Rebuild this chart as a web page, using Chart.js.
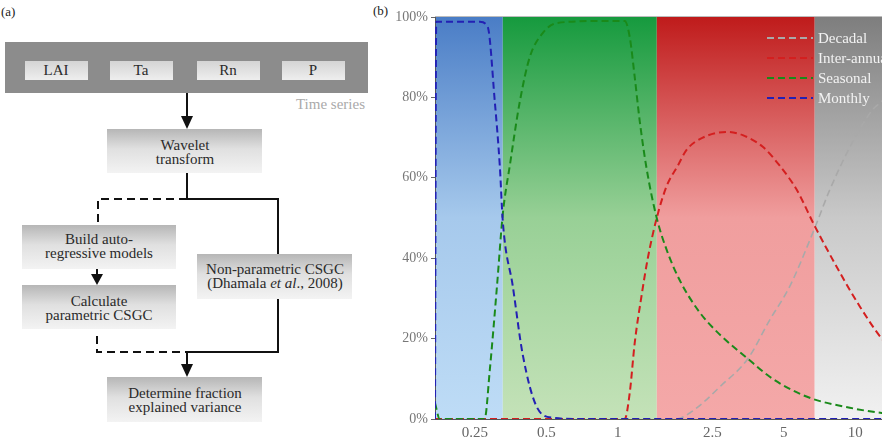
<!DOCTYPE html>
<html>
<head>
<meta charset="utf-8">
<script src="https://cdn.jsdelivr.net/npm/chart.js@4.4.1/dist/chart.umd.min.js"></script>
<style>
  body { margin: 0; width: 882px; height: 440px; overflow: hidden; background: #fff; position: relative;
         font-family: "Liberation Serif", "DejaVu Serif", serif; }
  #flow { position: absolute; left: 0; top: 0; }
  #flow text { font-family: "Liberation Serif", "DejaVu Serif", serif; font-size: 15px; }
  #wrap { position: absolute; left: 370px; top: 0; width: 540px; height: 440px; }
  .tag { position: absolute; font-size: 13px; color: #222; }
</style>
</head>
<body>
<div class="tag" style="left:1px;top:4px">(a)</div>
<svg id="flow" width="370" height="440" fill="#2a2a2a">
  <defs>
    <linearGradient id="boxG" x1="0" y1="0" x2="0" y2="1">
      <stop offset="0" stop-color="#b6b6b6"/>
      <stop offset="0.45" stop-color="#e0e0e0"/>
      <stop offset="1" stop-color="#f3f3f3"/>
    </linearGradient>
    <linearGradient id="tagG" x1="0" y1="0" x2="0" y2="1">
      <stop offset="0" stop-color="#d4d4d4"/>
      <stop offset="1" stop-color="#eeeeee"/>
    </linearGradient>
  </defs>
  <rect x="5" y="42" width="363" height="51" fill="#8c8c8c"/>
  <rect x="25" y="61" width="63" height="19" fill="url(#tagG)"/>
  <rect x="110" y="61" width="63" height="19" fill="url(#tagG)"/>
  <rect x="197" y="61" width="63" height="19" fill="url(#tagG)"/>
  <rect x="282" y="61" width="63" height="19" fill="url(#tagG)"/>
  <text x="56" y="75" text-anchor="middle">LAI</text>
  <text x="141" y="75" text-anchor="middle">Ta</text>
  <text x="228" y="75" text-anchor="middle">Rn</text>
  <text x="313" y="75" text-anchor="middle">P</text>
  <text x="365" y="109" text-anchor="end" fill="#aaaaaa">Time series</text>

  <g stroke="#111" stroke-width="2" fill="none">
    <line x1="187" y1="93" x2="187" y2="118"/>
    <polyline points="187,173 187,199 278,199 278,254"/>
    <polyline points="187,199 98,199 98,225" stroke-dasharray="8,5"/>
    <line x1="97" y1="269" x2="97" y2="276"/>
    <polyline points="97,336 97,352 187,352" stroke-dasharray="8,5"/>
    <polyline points="278,299 278,352 187,352"/>
    <line x1="187" y1="352" x2="187" y2="366"/>
  </g>
  <g fill="#111">
    <polygon points="181,116 193,116 187,129"/>
    <polygon points="91,274 103,274 97,285"/>
    <polygon points="181,364 193,364 187,377"/>
  </g>

  <rect x="107" y="129" width="155" height="44" fill="url(#boxG)"/>
  <text x="185" y="150" text-anchor="middle">Wavelet</text>
  <text x="185" y="164" text-anchor="middle">transform</text>

  <rect x="22" y="225" width="154" height="44" fill="url(#boxG)"/>
  <text x="99" y="244" text-anchor="middle">Build auto-</text>
  <text x="99" y="258" text-anchor="middle">regressive models</text>

  <rect x="22" y="285" width="154" height="44" fill="url(#boxG)"/>
  <text x="99" y="306" text-anchor="middle">Calculate</text>
  <text x="99" y="320" text-anchor="middle">parametric CSGC</text>

  <rect x="197" y="254" width="155" height="45" fill="url(#boxG)"/>
  <text x="275" y="274" text-anchor="middle">Non-parametric CSGC</text>
  <text x="275" y="288" text-anchor="middle">(Dhamala <tspan font-style="italic">et al</tspan>., 2008)</text>

  <rect x="107" y="377" width="155" height="45" fill="url(#boxG)"/>
  <text x="185" y="398" text-anchor="middle">Determine fraction</text>
  <text x="185" y="412" text-anchor="middle">explained variance</text>
</svg>

<div class="tag" style="left:373px;top:3px">(b)</div>
<div id="wrap"><canvas id="share-chart" width="540" height="440"></canvas></div>

<script>
// period in years, share of explained variance in %
const periodTicks = [0.25, 0.5, 1, 2.5, 5, 10];
const periodTickLabels = ['0.25', '0.5', '1', '2.5', '5', '10'];
const bandEdges = [0.17, 0.328, 1.46, 6.75, 17];

const decadalPeriod = [0.17, 1.77, 2.01, 2.28, 2.69, 3.53, 4.36, 5.30, 6.75, 7.81, 9.76, 11.85, 12.93, 17];
const decadalShare  = [0,    0,    1.5,  4,    8,    15,   24.6, 33,   47.5, 57,   69,   77,   79,    87];

const interPeriod = [0.17, 1.07, 1.123, 1.179, 1.262, 1.338, 1.459, 1.608, 1.789, 1.952, 2.28, 2.905, 3.359, 4.079, 4.809, 5.67, 6.75, 8.6,  10.45, 12.93, 17];
const interShare  = [0,    0,    6.5,   19,    31,    40,    50,    58,    63,    67,    70,   71.4,  70.6,  67.7,  63,    57,   48,   36.5, 28,    20,    13];

const seasonalPeriod = [0.17, 0.178, 0.275, 0.289, 0.31, 0.328, 0.351, 0.387, 0.426, 0.483, 0.554, 0.84, 1.07, 1.123, 1.179, 1.238, 1.325, 1.459, 1.608, 1.824, 2.214, 2.688, 3.526, 4.364, 5.30, 6.62, 9.48, 12.93, 17];
const seasonalShare  = [4,    0,     0,     12,    33,   51,    63,    79,    90,    96,    98.5,  99,   99,   95,    85,    74,    62,    50,    42,    34.5,  26.5,  21,    15,    10.5,  7.5,  5,    2.8,  1.5,   1];

const monthlyPeriod = [0.17, 0.172, 0.2625, 0.2835, 0.3035, 0.3186, 0.3282, 0.3615, 0.398, 0.456, 0.5325, 0.692, 17];
const monthlyShare  = [0,    98.8,  98.8,   97.5,   79,     63,     49,     33,     16,    3,     0.3,    0,     0];

const seriesNames = ['Decadal', 'Inter-annual', 'Seasonal', 'Monthly'];

function toPoints(xs, ys) {
    return xs.map((x, i) => ({x: x, y: ys[i]}));
}

const bandColors = [
    ['#4a7dc6', '#a6c9ec', '#bedcf6'],
    ['#169a3e', '#98d096', '#c4e2b8'],
    ['#bf1b1b', '#f09e9e', '#f4a8a8'],
    ['#7e7e7e', '#c9c9c9', '#f1f1f1']
];

const bandShading = {
    id: 'bandShading',
    beforeDraw(chart) {
        const {ctx, chartArea: a, scales: {x}} = chart;
        ctx.save();
        bandColors.forEach((stops, i) => {
            const x0 = x.getPixelForValue(bandEdges[i]);
            const x1 = x.getPixelForValue(bandEdges[i + 1]);
            const g = ctx.createLinearGradient(0, a.top, 0, a.bottom);
            stops.forEach((c, j) => g.addColorStop(j / (stops.length - 1), c));
            ctx.fillStyle = g;
            ctx.fillRect(x0, a.top, x1 - x0, a.bottom - a.top);
        });
        ctx.strokeStyle = '#bdbdbd';
        ctx.lineWidth = 1;
        ctx.beginPath();
        ctx.moveTo(a.left, a.top - 0.5);
        ctx.lineTo(a.right, a.top - 0.5);
        ctx.stroke();
        ctx.restore();
    }
};

const insideLegend = {
    id: 'insideLegend',
    afterDatasetsDraw(chart) {
        const {ctx, chartArea: a} = chart;
        ctx.save();
        ctx.font = '15px "Liberation Serif", serif';
        ctx.textBaseline = 'middle';
        chart.data.datasets.forEach((ds, i) => {
            const y = a.top + 21 + i * 20;
            const lx = a.left + 332;
            ctx.strokeStyle = ds.borderColor;
            ctx.lineWidth = 2;
            ctx.setLineDash([7, 4]);
            ctx.beginPath();
            ctx.moveTo(lx, y);
            ctx.lineTo(lx + 46, y);
            ctx.stroke();
            ctx.setLineDash([]);
            ctx.fillStyle = '#f2f2f2';
            ctx.fillText(ds.label, lx + 51, y + 1);
        });
        ctx.restore();
    }
};

const lineStyle = {
    borderWidth: 2,
    borderDash: [7, 4],
    pointRadius: 0,
    fill: false,
    cubicInterpolationMode: 'monotone'
};

new Chart(document.getElementById('share-chart'), {
    type: 'line',
    data: {
        datasets: [
            {...lineStyle, label: seriesNames[0], data: toPoints(decadalPeriod, decadalShare), borderColor: '#a9a9a9', borderWidth: 1.6, order: 3},
            {...lineStyle, label: seriesNames[1], data: toPoints(interPeriod, interShare), borderColor: '#d41f1f', order: 2},
            {...lineStyle, label: seriesNames[2], data: toPoints(seasonalPeriod, seasonalShare), borderColor: '#1a8a1a', order: 1},
            {...lineStyle, label: seriesNames[3], data: toPoints(monthlyPeriod, monthlyShare), borderColor: '#2320b4', order: 0}
        ]
    },
    options: {
        responsive: false,
        animation: false,
        layout: {padding: {top: 17, right: 0, left: 0, bottom: 0}},
        plugins: {
            legend: {display: false},
            tooltip: {enabled: false}
        },
        scales: {
            x: {
                type: 'logarithmic',
                min: bandEdges[0],
                max: bandEdges[bandEdges.length - 1],
                afterBuildTicks: axis => { axis.ticks = periodTicks.map(v => ({value: v})); },
                afterFit: axis => { axis.height = 21; },
                grid: {drawOnChartArea: false, drawTicks: false},
                border: {color: '#555', width: 1},
                ticks: {
                    autoSkip: false,
                    maxRotation: 0,
                    padding: 5,
                    color: '#666',
                    font: {family: '"Liberation Serif", serif', size: 15},
                    callback: v => periodTickLabels[periodTicks.indexOf(v)] ?? ''
                }
            },
            y: {
                min: 0,
                max: 100,
                afterFit: axis => { axis.width = 65; },
                grid: {drawOnChartArea: false, drawTicks: true, tickLength: 4, color: '#666'},
                border: {color: '#555', width: 1},
                ticks: {
                    stepSize: 20,
                    padding: 3,
                    color: '#777',
                    font: {family: '"Liberation Serif", serif', size: 14},
                    callback: v => v + '%'
                }
            }
        }
    },
    plugins: [bandShading, insideLegend]
});
</script>
</body>
</html>
